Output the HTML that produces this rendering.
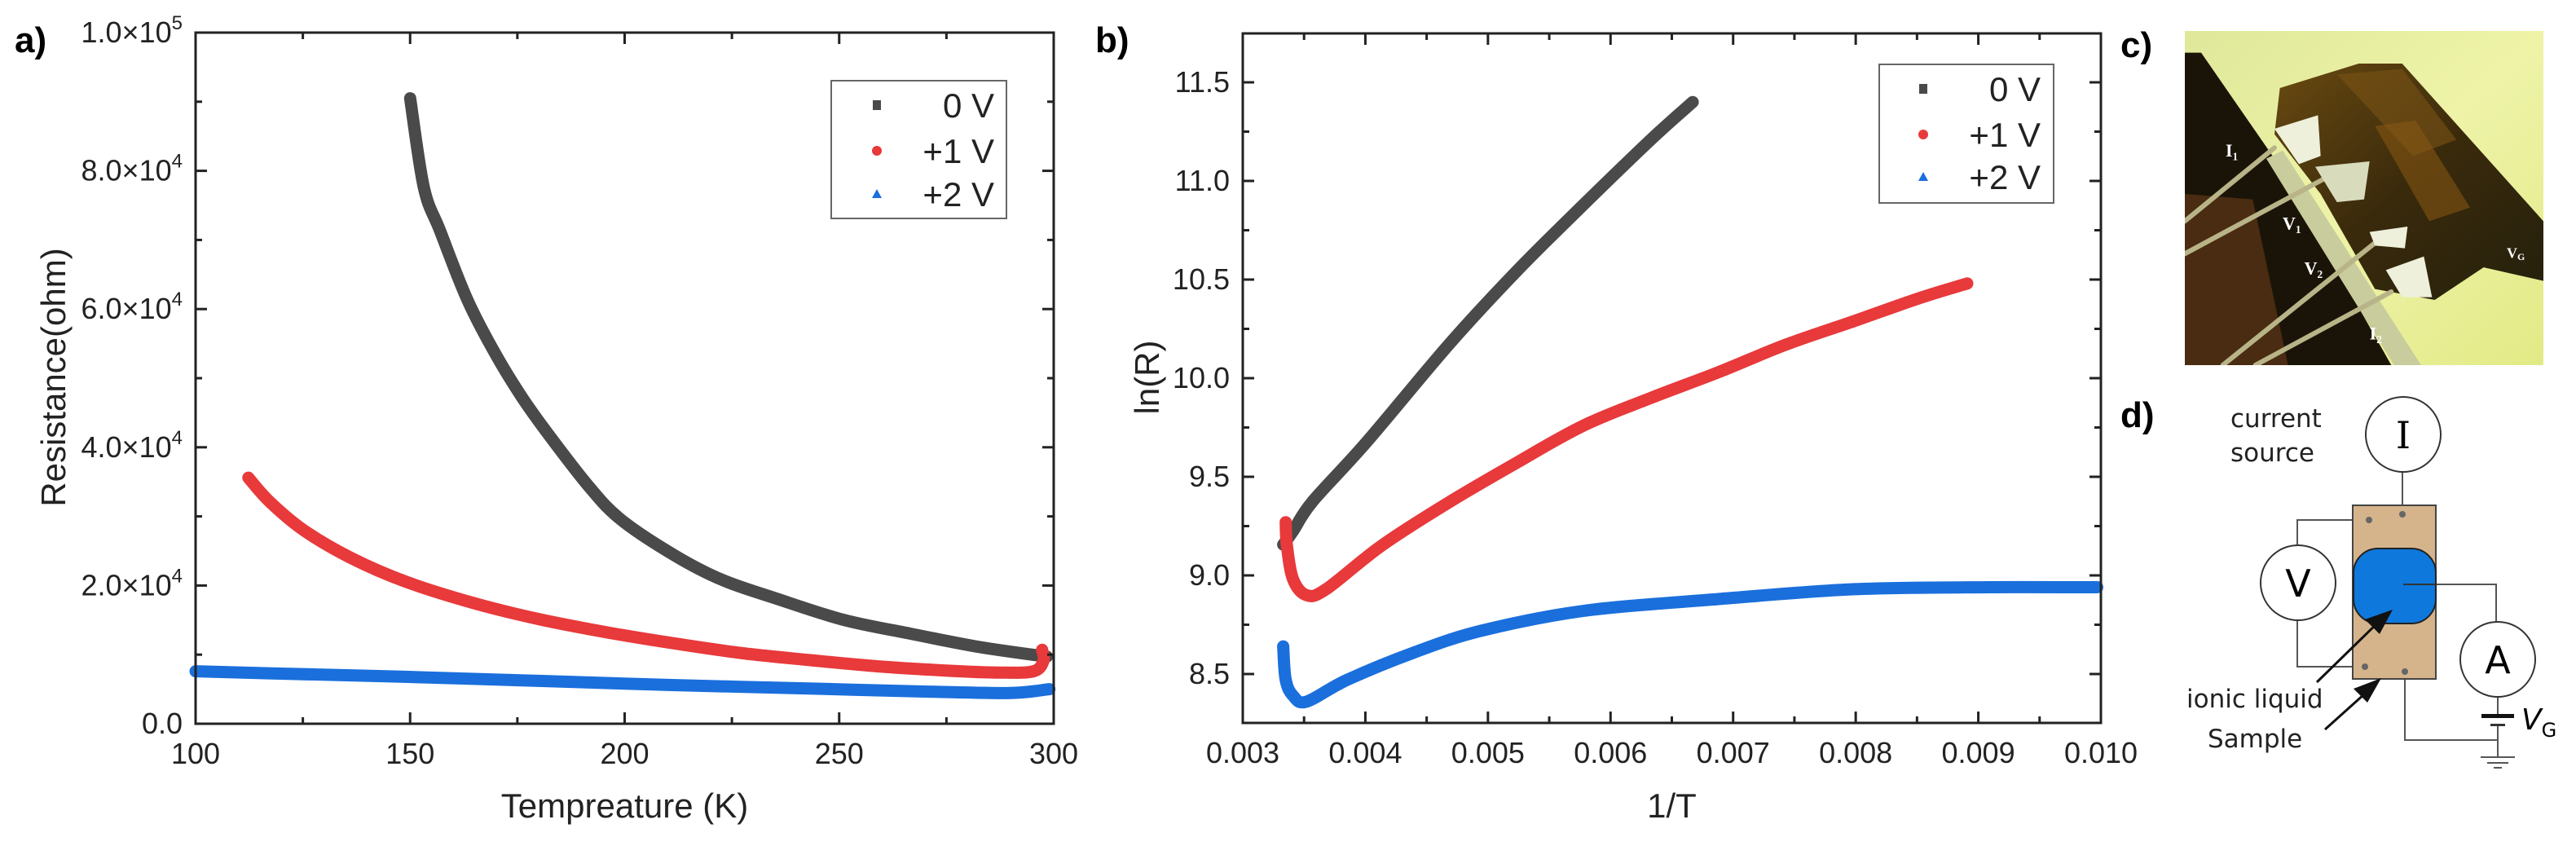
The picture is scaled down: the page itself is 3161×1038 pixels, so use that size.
<!DOCTYPE html>
<html><head><meta charset="utf-8"><style>
html,body{margin:0;padding:0;background:#fff;}
svg{display:block;font-family:"Liberation Sans",Arial,sans-serif;}
</style></head><body>
<svg id="fig" width="3161" height="1038" viewBox="0 0 3161 1038" xmlns="http://www.w3.org/2000/svg">
<rect width="3161" height="1038" fill="#fff"/>
<g id="pa"></g>
<g id="pb"></g>
<text x="18" y="64" font-size="44" font-weight="bold">a)</text>
<text x="1344" y="64" font-size="44" font-weight="bold">b)</text>
<text x="2602" y="70" font-size="44" font-weight="bold">c)</text>
<text x="2602" y="524" font-size="44" font-weight="bold">d)</text>

<g>
<defs>
<linearGradient id="bg" x1="0" y1="0" x2="1" y2="1"><stop offset="0" stop-color="#dfe89a"/><stop offset="0.5" stop-color="#eef3a8"/><stop offset="1" stop-color="#e2ea86"/></linearGradient>
<linearGradient id="gold" x1="0" y1="0" x2="1" y2="1"><stop offset="0" stop-color="#6a4a10"/><stop offset="0.5" stop-color="#3a2a0c"/><stop offset="1" stop-color="#24200c"/></linearGradient>
<clipPath id="pc"><rect x="0" y="0" width="1320" height="1230"/></clipPath>
</defs>
<g transform="translate(2681,38) scale(0.33333)" clip-path="url(#pc)">
<rect x="0" y="0" width="1320" height="1230" fill="url(#bg)"/>
<polygon points="0,80 60,80 330,470 760,1230 0,1230" fill="#1a1408"/>
<polygon points="0,600 250,620 380,1230 0,1230" fill="#5a3414" opacity="0.75"/>
<polygon points="300,470 360,440 870,1230 770,1230" fill="#c9cc9c"/>
<polygon points="350,210 640,120 800,120 1320,700 1320,920 1100,870 920,990 700,950 500,600 330,380" fill="url(#gold)"/>
<polygon points="560,160 800,140 1000,400 840,460" fill="#7a5416" opacity="0.6"/>
<polygon points="700,350 850,330 1050,650 900,700" fill="#8a5a14" opacity="0.55"/>
<g stroke="#b8b488" stroke-width="18" fill="none" stroke-linecap="round">
<path d="M0,700 L330,430"/><path d="M0,820 L520,540"/><path d="M140,1230 L700,780"/><path d="M260,1230 L760,960"/>
</g>
<polygon points="330,360 490,310 500,460 420,490" fill="#eef0dc"/>
<polygon points="480,500 680,480 660,620 560,630" fill="#d8dcbc"/>
<polygon points="680,740 820,720 810,800 700,790" fill="#eef0dc"/>
<polygon points="740,880 880,830 910,980 800,980" fill="#eef0dc"/>
<g fill="#fff" font-family="Liberation Serif,serif" font-size="66" font-weight="bold">
<text x="150" y="462">I<tspan font-size="40" dy="14">1</tspan></text>
<text x="360" y="730">V<tspan font-size="40" dy="14">1</tspan></text>
<text x="440" y="895">V<tspan font-size="40" dy="14">2</tspan></text>
<text x="680" y="1135">I<tspan font-size="40" dy="14">2</tspan></text>
<text x="1185" y="835" font-size="54">V<tspan font-size="36" dy="8">G</tspan></text>
</g>
</g>
</g>

<g font-family="DejaVu Sans,sans-serif">
<g stroke="#555" stroke-width="2" fill="none">
<path d="M2948,579 V631"/>
<path d="M2819,669 V638 H2907"/>
<path d="M2819,761 V818 H2902"/>
<path d="M2951,824 V908 H3065"/>
<path d="M2949,717 H3063 V763"/>
<path d="M3065,855 V879"/>
<path d="M3065,890 V929"/>
<path d="M3044,929 H3086 M3052,936 H3078 M3060,942 H3070"/>
</g>
<rect x="2887" y="620" width="102" height="213" fill="#d5b48c" stroke="#444" stroke-width="2"/>
<rect x="2888" y="673" width="101" height="92" rx="30" ry="30" fill="#0e78dc" stroke="#222" stroke-width="2"/>
<path d="M2949,717 H2989" stroke="#333" stroke-width="2"/>
<g fill="#666"><circle cx="2948" cy="631" r="4"/><circle cx="2907" cy="638" r="4"/><circle cx="2902" cy="818" r="4"/><circle cx="2951" cy="824" r="4"/></g>
<circle cx="2949" cy="533" r="46" fill="#fff" stroke="#333" stroke-width="2"/>
<circle cx="2820" cy="715" r="46" fill="#fff" stroke="#333" stroke-width="2"/>
<circle cx="3065" cy="809" r="46" fill="#fff" stroke="#333" stroke-width="2"/>
<text x="2949" y="550" font-size="46" text-anchor="middle" font-family="DejaVu Serif,serif">I</text>
<text x="2820" y="732" font-size="46" text-anchor="middle">V</text>
<text x="3065" y="826" font-size="46" text-anchor="middle">A</text>
<rect x="3045" y="876" width="40" height="5" fill="#111"/>
<rect x="3056" y="888" width="18" height="3" fill="#333"/>
<text x="3094" y="895" font-size="36" font-style="italic">V<tspan font-style="normal" font-size="24" dy="9">G</tspan></text>
<text x="2737" y="524" font-size="31" fill="#222">current</text>
<text x="2737" y="566" font-size="31" fill="#222">source</text>
<text x="2683" y="868" font-size="31" fill="#222">ionic liquid</text>
<text x="2709" y="917" font-size="31" fill="#222">Sample</text>
<g stroke="#111" stroke-width="3"><path d="M2843,837 L2925,757"/><path d="M2853,895 L2912,842"/></g>
<polygon points="2936,748 2902,760 2920,778" fill="#111"/>
<polygon points="2922,832 2888,845 2905,862" fill="#111"/>
</g>
</svg>
<script>
// Panel a data
const aT0 = [150,153.2,157,163.3,169.7,176,182.2,191.7,199.2,211.8,222.8,235.4,251.2,266.9,282.7,298.4];
const aR0 = [90500,77600,71300,61400,53700,47300,41900,34300,29500,24300,20800,18100,15000,13000,11100,9700];
const aT1 = [112.3,117.3,125.2,136.2,148.8,164.6,180.3,196.1,211.8,227.6,243.3,259.1,274.8,287.4,295.3,297.6,297.3];
const aR1 = [35600,32100,28000,24000,20600,17500,15100,13200,11600,10200,9200,8300,7700,7400,7600,9100,10700];
const aT2 = [100,117,148,180,211,243,274,290,299];
const aR2 = [7600,7300,6800,6200,5600,5100,4600,4450,5000];
const aXTicks = [100,150,200,250,300];
const aYTicks = [0,20000,40000,60000,80000,100000];
const aYLabels = ["0.0","2.0×10|4","4.0×10|4","6.0×10|4","8.0×10|4","1.0×10|5"];
// Panel b data
const bX0 = [0.00333,0.00341,0.00357,0.00401,0.00468,0.00523,0.00578,0.00633,0.00667];
const bY0 = [9.156,9.225,9.375,9.676,10.17,10.54,10.88,11.21,11.40];
const bX1 = [0.00335,0.00336,0.00341,0.00352,0.00368,0.00413,0.00468,0.00523,0.00578,0.00633,0.00688,0.00743,0.00799,0.00854,0.00891];
const bY1 = [9.27,9.15,8.98,8.90,8.93,9.15,9.37,9.57,9.76,9.90,10.03,10.17,10.29,10.41,10.48];
const bX2 = [0.00333,0.00335,0.00341,0.00352,0.00385,0.0044,0.00495,0.00578,0.00688,0.00799,0.00909,0.00997];
const bY2 = [8.64,8.47,8.39,8.36,8.47,8.61,8.72,8.82,8.88,8.93,8.94,8.94];
const bXTicks = [0.003,0.004,0.005,0.006,0.007,0.008,0.009,0.010];
const bXLabels = ["0.003","0.004","0.005","0.006","0.007","0.008","0.009","0.010"];
const bYTicks = [8.5,9.0,9.5,10.0,10.5,11.0,11.5];
const legendNames = ["0 V","+1 V","+2 V"];

const NS="http://www.w3.org/2000/svg";
const COL=["#4a4a4a","#e8393b","#1a6fdc"];
function mk(parent,tag,attrs){const e=document.createElementNS(NS,tag);for(const k in attrs)e.setAttribute(k,attrs[k]);parent.appendChild(e);return e;}

function smoothPath(P){
  let d="M"+P[0][0].toFixed(1)+","+P[0][1].toFixed(1);
  for(let i=0;i<P.length-1;i++){
    const p0=P[i-1]||P[i],p1=P[i],p2=P[i+1],p3=P[i+2]||P[i+1];
    const c1=[p1[0]+(p2[0]-p0[0])/6,p1[1]+(p2[1]-p0[1])/6];
    const c2=[p2[0]-(p3[0]-p1[0])/6,p2[1]-(p3[1]-p1[1])/6];
    d+=` C${c1[0].toFixed(1)},${c1[1].toFixed(1)} ${c2[0].toFixed(1)},${c2[1].toFixed(1)} ${p2[0].toFixed(1)},${p2[1].toFixed(1)}`;
  }
  return d;
}

function drawPanel(g,cfg){
  const {x0,x1,y0,y1,xmin,xmax,ymin,ymax}=cfg;
  const sx=v=>x0+(v-xmin)/(xmax-xmin)*(x1-x0);
  const sy=v=>y1-(v-ymin)/(ymax-ymin)*(y1-y0);
  cfg.series.forEach((s,i)=>{
    const P=s.x.map((v,j)=>[sx(v),sy(s.y[j])]);
    const p=mk(g,"path",{d:smoothPath(P),fill:"none",stroke:COL[i],"stroke-width":15,"stroke-linejoin":"round","stroke-linecap":"round"});
    
    
  });
  const fr=mk(g,"rect",{x:x0,y:y0,width:x1-x0,height:y1-y0,fill:"none",stroke:"#222","stroke-width":3});
  
  
  const xs=cfg.xTicks;
  for(let i=0;i<xs.length;i++){
    const X=sx(xs[i]);
    mk(g,"line",{x1:X,x2:X,y1:y1,y2:y1-14,stroke:"#222","stroke-width":3});
    mk(g,"line",{x1:X,x2:X,y1:y0,y2:y0+14,stroke:"#222","stroke-width":3});
    if(i<xs.length-1){const m=sx((xs[i]+xs[i+1])/2);
      mk(g,"line",{x1:m,x2:m,y1:y1,y2:y1-8,stroke:"#222","stroke-width":3});
      mk(g,"line",{x1:m,x2:m,y1:y0,y2:y0+8,stroke:"#222","stroke-width":3});}
    const t=mk(g,"text",{x:X,y:y1+49,"font-size":36,"text-anchor":"middle",fill:"#222"});
    t.textContent=cfg.xLabels[i];
    
    
  }
  const ys=cfg.yTicks;
  for(let i=0;i<ys.length;i++){
    const Y=sy(ys[i]);
    mk(g,"line",{x1:x0,x2:x0+14,y1:Y,y2:Y,stroke:"#222","stroke-width":3});
    mk(g,"line",{x1:x1,x2:x1-14,y1:Y,y2:Y,stroke:"#222","stroke-width":3});
    const mids=[];
    if(i<ys.length-1)mids.push((ys[i]+ys[i+1])/2);
    if(i==ys.length-1 && cfg.extraMinor)mids.push(ys[i]+(ys[i]-ys[i-1])/2);
    if(i==0 && cfg.extraMinor)mids.push(ys[0]-(ys[1]-ys[0])/2);
    mids.forEach(mv=>{if(mv<ymin||mv>ymax)return;const m=sy(mv);
      mk(g,"line",{x1:x0,x2:x0+8,y1:m,y2:m,stroke:"#222","stroke-width":3});
      mk(g,"line",{x1:x1,x2:x1-8,y1:m,y2:m,stroke:"#222","stroke-width":3});});
    const t=mk(g,"text",{x:x0-16,y:Y+12,"font-size":36,"text-anchor":"end",fill:"#222"});
    const lab=cfg.yLabels[i];
    if(lab.indexOf("|")>=0){const [b,e]=lab.split("|");t.textContent=b;const ts=mk(t,"tspan",{"font-size":24,dy:-16});ts.textContent=e;}
    else t.textContent=lab;
    
    
  }
  const xt=mk(g,"text",{x:(x0+x1)/2,y:1003,"font-size":42,"text-anchor":"middle",fill:"#222"});
  xt.textContent=cfg.xTitle;
  
  
  const yt=mk(g,"text",{x:0,y:0,"font-size":42,"text-anchor":"middle",fill:"#222",transform:`translate(${cfg.yTitleX},463) rotate(-90)`});
  yt.textContent=cfg.yTitle;
  
  
  const L=cfg.legend;
  const lg=mk(g,"g",{});
  
  
  mk(lg,"rect",{x:L.x,y:L.y,width:L.w,height:L.h,fill:"#fff",stroke:"#666","stroke-width":2});
  legendNames.forEach((n,i)=>{
    const cy=L.y+L.rows[i];
    const mx=L.mx;
    const e=mk(lg,"g",{});
    
    
    if(i==0)mk(e,"rect",{x:mx-5,y:cy-6,width:10,height:12,fill:COL[0]});
    if(i==1)mk(e,"circle",{cx:mx,cy:cy,r:6,fill:COL[1]});
    if(i==2)mk(e,"polygon",{points:`${mx-6},${cy+5} ${mx+6},${cy+5} ${mx},${cy-6}`,fill:COL[2]});
    const t=mk(e,"text",{x:L.tx,y:cy+15,"font-size":42,"text-anchor":"end",fill:"#222"});
    t.textContent=n;
  });
}

drawPanel(document.getElementById("pa"),{x0:240,x1:1293,y0:40,y1:888,xmin:100,xmax:300,ymin:0,ymax:100000,
  series:[{x:aT0,y:aR0},{x:aT1,y:aR1},{x:aT2,y:aR2}],
  xTicks:aXTicks,xLabels:aXTicks.map(String),yTicks:aYTicks,yLabels:aYLabels,extraMinor:false,
  xTitle:"Tempreature (K)",yTitle:"Resistance(ohm)",yTitleX:80,
  legend:{x:1020,y:99,w:215,h:169,mx:1076,tx:1220,rows:[30,86,139]}});
drawPanel(document.getElementById("pb"),{x0:1525,x1:2578,y0:41,y1:887,xmin:0.003,xmax:0.010,ymin:8.252,ymax:11.748,
  series:[{x:bX0,y:bY0},{x:bX1,y:bY1},{x:bX2,y:bY2}],
  xTicks:bXTicks,xLabels:bXLabels,yTicks:bYTicks,yLabels:bYTicks.map(v=>v.toFixed(1)),extraMinor:true,
  xTitle:"1/T",yTitle:"ln(R)",yTitleX:1422,
  legend:{x:2306,y:79,w:214,h:170,mx:2360,tx:2504,rows:[30,86,138]}});
</script>
</body></html>
